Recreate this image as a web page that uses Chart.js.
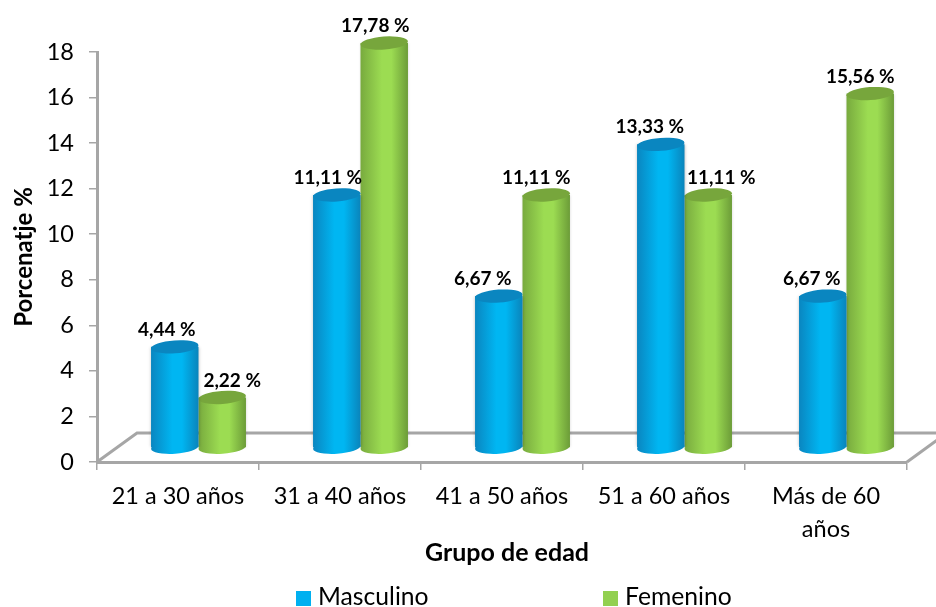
<!DOCTYPE html>
<html>
<head>
<meta charset="utf-8">
<title>Grupo de edad</title>
<script src="https://cdn.jsdelivr.net/npm/chart.js@4"></script>
<style>
  html, body { margin: 0; padding: 0; background: #fff; }
  canvas { display: block; }
</style>
</head>
<body>
<canvas id="chart" width="936" height="607"></canvas>
<script>
const categorias = ['21 a 30 años', '31 a 40 años', '41 a 50 años', '51 a 60 años', ['Más de 60', 'años']];
const masculino = [4.44, 11.11, 6.67, 13.33, 6.67];
const femenino = [2.22, 17.78, 11.11, 11.11, 15.56];
// nudge of each value label from its bar centre, the original chart moved them by hand
const nudgeMasculino = [-8, -9, -16, -11, -11];
const nudgeFemenino = [10, -9, -10, 13, -10];

const GRIS = '#a6a6a6';
const FUENTE = 'Lato, Carlito, sans-serif';
// the bars stand on the floor of the fake 3D box, not on the axis
const DX = 20.5, DY = -14;
const RY = 6.5, TILT = -4 * Math.PI / 180;

const tonos = [
  { borde1: '#0a86c0', medio: '#00b6f2', borde2: '#0a84bb', tapa: '#0a86c0' },
  { borde1: '#78aa3e', medio: '#9cdc52', borde2: '#6c9c38', tapa: '#77a63c' }
];

const cilindros = {
  id: 'cilindros',
  beforeDatasetDraw(chart, args) {
    const ctx = chart.ctx, tono = tonos[args.index];
    args.meta.data.forEach((bar) => {
      const g = ctx.createLinearGradient(bar.x - bar.width / 2, 0, bar.x + bar.width / 2, 0);
      g.addColorStop(0, tono.borde1);
      g.addColorStop(0.45, tono.medio);
      g.addColorStop(0.65, tono.medio);
      g.addColorStop(1, tono.borde2);
      bar.options = Object.assign({}, bar.options, { backgroundColor: g });
    });
    ctx.save();
    ctx.translate(DX, DY);
    ctx.shadowColor = 'rgba(0,0,0,0.25)';
    ctx.shadowBlur = 3;
  },
  afterDatasetDraw(chart, args) {
    const ctx = chart.ctx, tono = tonos[args.index];
    // no shadow here or the ellipses show up on their own bar
    ctx.shadowColor = 'transparent';
    args.meta.data.forEach((bar) => {
      const rx = bar.width / 2;
      ctx.fillStyle = bar.options.backgroundColor;
      ctx.beginPath();
      ctx.ellipse(bar.x, bar.base, rx, RY, TILT, 0, Math.PI * 2);
      ctx.fill();
      ctx.fillStyle = tono.tapa;
      ctx.beginPath();
      ctx.ellipse(bar.x, bar.y, rx, RY, TILT, 0, Math.PI * 2);
      ctx.fill();
    });
    ctx.restore();
  },
  // labels go last, they sit on top of the neighbouring bar
  afterDatasetsDraw(chart) {
    const ctx = chart.ctx;
    ctx.save();
    ctx.font = 'bold 19px ' + FUENTE;
    ctx.fillStyle = '#000';
    ctx.textAlign = 'center';
    ctx.textBaseline = 'middle';
    [nudgeMasculino, nudgeFemenino].forEach((nudges, d) => {
      chart.getDatasetMeta(d).data.forEach((bar, i) => {
        const v = chart.data.datasets[d].data[i];
        const txt = v.toFixed(2).replace('.', ',') + ' %';
        ctx.fillText(txt, bar.x + DX + nudges[i], bar.y + DY - 17);
      });
    });
    ctx.restore();
  }
};

// floor of the box, behind the bars
const piso = {
  id: 'piso',
  beforeDatasetsDraw(chart) {
    const ctx = chart.ctx, x = chart.scales.x, y0 = chart.scales.y.getPixelForValue(0);
    ctx.save();
    ctx.strokeStyle = GRIS;
    ctx.lineWidth = 3;
    ctx.beginPath();
    ctx.moveTo(x.left, y0);
    ctx.lineTo(x.left + 40, y0 - 29);
    ctx.lineTo(x.right + 40, y0 - 29);
    ctx.lineTo(x.right, y0);
    ctx.stroke();
    ctx.restore();
  }
};

// legend and x title sit off centre in the original, so they are placed here
const leyenda = {
  id: 'leyenda',
  afterDraw(chart) {
    const ctx = chart.ctx;
    const posX = [296, 603], colores = ['#00b0f0', '#92d050'];
    ctx.save();
    ctx.textBaseline = 'middle';
    ctx.font = '24.7px ' + FUENTE;
    chart.data.datasets.forEach((ds, i) => {
      ctx.fillStyle = colores[i];
      ctx.fillRect(posX[i], 591, 15, 15);
      ctx.fillStyle = '#000';
      ctx.fillText(ds.label, posX[i] + 22, 597);
    });
    ctx.font = 'bold 25px ' + FUENTE;
    ctx.textAlign = 'center';
    ctx.fillText('Grupo de edad', (chart.scales.x.left + chart.scales.x.right) / 2 + 5, 553);
    ctx.restore();
  }
};

const chart = new Chart(document.getElementById('chart'), {
  type: 'bar',
  data: {
    labels: categorias,
    datasets: [
      { label: 'Masculino', data: masculino, backgroundColor: '#00b0f0', clip: false },
      { label: 'Femenino', data: femenino, backgroundColor: '#92d050', clip: false }
    ]
  },
  plugins: [piso, cilindros, leyenda],
  options: {
    responsive: false,
    animation: false,
    layout: { padding: { top: 52, right: 29, bottom: 43, left: 0 } },
    datasets: { bar: { categoryPercentage: 0.586, barPercentage: 1, borderWidth: 0 } },
    plugins: {
      legend: { display: false },
      tooltip: { enabled: false }
    },
    scales: {
      x: {
        afterFit(scale) { scale.height = 102; },
        grid: { drawOnChartArea: false, color: GRIS, lineWidth: 1.5, tickLength: 8 },
        border: { color: GRIS, width: 3 },
        ticks: { color: '#000', font: { family: FUENTE, size: 23.5, lineHeight: 1.4 }, padding: 10, maxRotation: 0, autoSkip: false }
      },
      y: {
        min: 0,
        max: 18,
        afterFit(scale) { scale.width = 97; },
        grid: { drawOnChartArea: false, color: GRIS, lineWidth: 1.5, tickLength: 8 },
        border: { color: GRIS, width: 3 },
        ticks: { stepSize: 2, color: '#000', font: { family: FUENTE, size: 23.5 }, padding: 15 },
        title: { display: true, text: 'Porcenatje %', color: '#000', font: { family: FUENTE, size: 24, weight: 'bold' }, padding: { top: 10, bottom: 0 } }
      }
    }
  }
});
</script>
</body>
</html>
